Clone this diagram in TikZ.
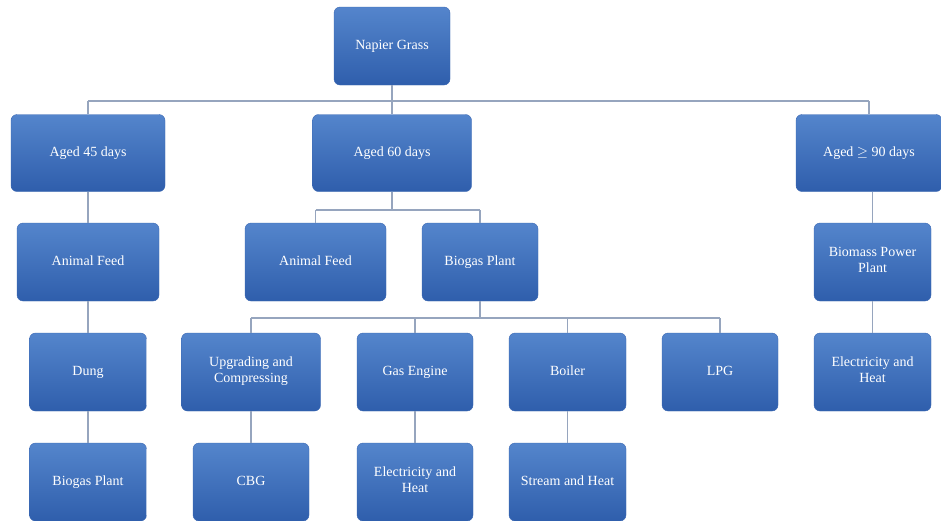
\documentclass[tikz,border=0pt]{standalone}
\usepackage{fontspec}
\setmainfont{Liberation Serif}
\begin{document}
\definecolor{boxtop}{RGB}{84,133,204}
\definecolor{boxbot}{RGB}{47,94,172}
\definecolor{boxedge}{RGB}{60,105,180}
\definecolor{wire}{RGB}{150,165,190}
\begin{tikzpicture}[x=1pt,y=-1pt,
  card/.style={rectangle, rounded corners=6pt, draw=boxedge, line width=0.4pt,
    top color=boxtop, bottom color=boxbot, text=white, align=center,
    font=\fontsize{14}{15.5}\selectfont, inner sep=0pt,
    execute at begin node=\strut},
  link/.style={draw=wire, line width=1.1pt}]
\useasboundingbox[fill=white] (0,0) rectangle (941,520);
% root and age groups
\node[card, minimum width=116pt, minimum height=78pt] (root) at (392,46) {Napier Grass};
\node[card, minimum width=154pt, minimum height=77pt] (a45) at (88,153) {Aged 45 days};
\node[card, minimum width=159pt, minimum height=77pt] (a60) at (392,153) {Aged 60 days};
\node[card, minimum width=146pt, minimum height=77pt] (a90) at (869,153) {Aged $\geq$ 90 days};
% 45 days branch
\node[card, minimum width=142pt, minimum height=78pt] (feedL) at (88,262) {Animal Feed};
\node[card, minimum width=117pt, minimum height=78pt] (dung) at (88,372) {Dung};
\node[card, minimum width=117pt, minimum height=78pt] (bioL) at (88,482) {Biogas Plant};
% 60 days branch
\node[card, minimum width=141pt, minimum height=78pt] (feedM) at (315.5,262) {Animal Feed};
\node[card, minimum width=116pt, minimum height=78pt] (bioM) at (480,262) {Biogas Plant};
\node[card, minimum width=139pt, minimum height=78pt] (upg) at (251,372) {Upgrading and\\\strut Compressing};
\node[card, minimum width=116pt, minimum height=78pt] (gas) at (415,372) {Gas Engine};
\node[card, minimum width=117pt, minimum height=78pt] (boil) at (567.5,372) {Boiler};
\node[card, minimum width=116pt, minimum height=78pt] (lpg) at (720,372) {LPG};
\node[card, minimum width=116pt, minimum height=78pt] (cbg) at (251,482) {CBG};
\node[card, minimum width=116pt, minimum height=78pt] (elecM) at (415,482) {Electricity and\\\strut Heat};
\node[card, minimum width=117pt, minimum height=78pt] (steam) at (567.5,482) {Stream and Heat};
% 90 days branch
\node[card, minimum width=117pt, minimum height=78pt] (bpp) at (872.5,262) {Biomass Power\\\strut Plant};
\node[card, minimum width=117pt, minimum height=78pt] (elecR) at (872.5,372) {Electricity and\\\strut Heat};
% connectors: horizontal buses and vertical drops
\coordinate (busTop) at (0,101);
\coordinate (busMid) at (0,210);
\coordinate (busLow) at (0,318);
\path[link] (root.south) -- (root.south |- busTop);
\path[link] (a45.north |- busTop) -- (a90.north |- busTop);
\path[link] (a45.north |- busTop) -- (a45.north);
\path[link] (a60.north |- busTop) -- (a60.north);
\path[link] (a90.north |- busTop) -- (a90.north);
\path[link] (a45.south) -- (feedL.north);
\path[link] (feedL.south) -- (dung.north);
\path[link] (dung.south) -- (bioL.north);
\path[link] (a60.south) -- (a60.south |- busMid);
\path[link] (feedM.north |- busMid) -- (bioM.north |- busMid);
\path[link] (feedM.north |- busMid) -- (feedM.north);
\path[link] (bioM.north |- busMid) -- (bioM.north);
\path[link] (bioM.south) -- (bioM.south |- busLow);
\path[link] (upg.north |- busLow) -- (lpg.north |- busLow);
\path[link] (upg.north |- busLow) -- (upg.north);
\path[link] (gas.north |- busLow) -- (gas.north);
\path[link] (boil.north |- busLow) -- (boil.north);
\path[link] (lpg.north |- busLow) -- (lpg.north);
\path[link] (upg.south) -- (cbg.north);
\path[link] (gas.south) -- (elecM.north);
\path[link] (boil.south) -- (steam.north);
\path[link] (a90.south -| bpp.north) -- (bpp.north);
\path[link] (bpp.south) -- (elecR.north);
\end{tikzpicture}
\end{document}
